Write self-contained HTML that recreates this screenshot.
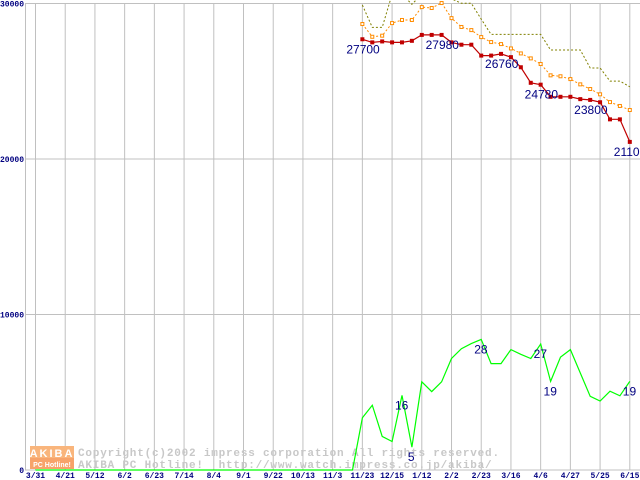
<!DOCTYPE html>
<html><head><meta charset="utf-8"><style>
body{margin:0;background:#fff;width:640px;height:480px;overflow:hidden}
svg{display:block}
text{font-family:"Liberation Sans",sans-serif}
text.mono{font-family:"Liberation Mono",monospace}
</style></head><body>
<svg id="chart" width="640" height="480" xmlns="http://www.w3.org/2000/svg">
<g id="grid"></g>
<g id="wm">
<rect x="30" y="446" width="44" height="12" fill="#f9b57c"/>
<rect x="30" y="458" width="44" height="11" fill="#f7a36a"/>
<text x="52" y="457" font-size="11" font-weight="bold" fill="#fff" text-anchor="middle" letter-spacing="2">AKIBA</text>
<text x="52" y="467" font-size="7" font-weight="bold" fill="#fff" text-anchor="middle">PC Hotline!</text>
<text class="mono" x="78" y="456" font-size="11" font-weight="bold" fill="#c8c8c8" letter-spacing="0.8">Copyright(c)2002 impress corporation All rights reserved.</text>
<text class="mono" x="78" y="468" font-size="11" font-weight="bold" fill="#c8c8c8" letter-spacing="0.8" xml:space="preserve">AKIBA PC Hotline!  http://www.watch.impress.co.jp/akiba/</text>
</g>
<g id="series"></g>
<g id="labels"></g>
</svg>
<script>
const xLabels=["3/31","4/21","5/12","6/2","6/23","7/14","8/4","9/1","9/22","10/13","11/3","11/23","12/15","1/12","2/2","2/23","3/16","4/6","4/27","5/25","6/15"];
const yTicks=[0,10000,20000,30000];
const priceStart=33;
const redVals=[27700,27500,27560,27500,27500,27600,27980,27980,27980,27500,27350,27350,26650,26650,26760,26550,25900,24900,24780,24000,24000,24000,23850,23800,23650,22550,22550,21100];
const orangeVals=[28680,27860,27930,28740,28940,28940,29770,29710,30030,29060,28490,28290,27840,27520,27390,27110,26790,26470,26110,25380,25320,25140,24800,24500,24160,23660,23410,23150];
const oliveVals=[29900,28460,28460,30600,30600,29950,30600,30600,30600,30300,30010,30010,29000,28010,28010,28010,28010,28010,28010,27010,27010,27010,27010,25850,25850,25010,25010,24640];
const greenStart=33;
const greenVals=[11.2,13.9,7.2,6.1,16,4.9,18.9,16.8,18.9,23.9,26,27.1,28,22.8,22.8,25.8,24.8,23.9,27,19,24.2,25.8,20.8,15.8,14.8,16.9,15.9,19];
const redLabels=[[0,"27700"],[8,"27980"],[14,"26760"],[18,"24780"],[23,"23800"],[27,"21100"]];
const greenLabels=[[4,"16"],[5,"5"],[12,"28"],[18,"27"],[19,"19"],[27,"19"]];

const NS="http://www.w3.org/2000/svg";
const x0=35.5,wk=9.905;
const X=w=>x0+w*wk;
const Y=v=>470-v*0.01555;
const YG=p=>470-p*4.665;
function mk(t,a,parent){const e=document.createElementNS(NS,t);for(const k in a)e.setAttribute(k,a[k]);parent.appendChild(e);return e;}
const grid=document.getElementById('grid'),ser=document.getElementById('series'),lab=document.getElementById('labels');
let ax=mk('line',{x1:25.5,y1:4,x2:25.5,y2:470,stroke:'#c0c0c0','stroke-width':1},grid);


xLabels.forEach((l,i)=>{
  const x=X(i*3);
  const g=mk('line',{x1:x,y1:4,x2:x,y2:470,stroke:'#c0c0c0','stroke-width':1},grid);
  
  
  const t=mk('text',{class:'mono',x:x,y:478,'font-size':8,'font-weight':'bold',fill:'#000080','text-anchor':'middle'},grid);
  t.textContent=l;
  
  
});
yTicks.forEach(v=>{
  const y=Y(v);
  const g=mk('line',{x1:25,y1:y,x2:640,y2:y,stroke:'#c0c0c0','stroke-width':1},grid);
  
  
  const t=mk('text',{class:'mono',x:24,y:y+3,'font-size':8,'font-weight':'bold',fill:'#000080','text-anchor':'end'},grid);
  t.textContent=String(v);
  
  
});
function pts(vals,start,f){return vals.map((v,i)=>X(start+i).toFixed(1)+','+f(v).toFixed(1)).join(' ');}
let ol=mk('polyline',{points:pts(oliveVals,priceStart,Y),fill:'none',stroke:'#808000','stroke-width':1,'stroke-dasharray':'2,2'},ser);


let or=mk('polyline',{points:pts(orangeVals,priceStart,Y),fill:'none',stroke:'#ff8c00','stroke-width':1,'stroke-dasharray':'2,2'},ser);


orangeVals.forEach((v,i)=>{
  const r=mk('rect',{x:X(priceStart+i)-1.5,y:Y(v)-1.5,width:3,height:3,fill:'#fff',stroke:'#ff8c00','stroke-width':1},ser);
  
  
});
let rd=mk('polyline',{points:pts(redVals,priceStart,Y),fill:'none',stroke:'#c00000','stroke-width':1.2},ser);


redVals.forEach((v,i)=>{
  const r=mk('rect',{x:X(priceStart+i)-2,y:Y(v)-2,width:4,height:4,fill:'#c00000'},ser);
  
  
});
const gAll=[];for(let w=0;w<greenStart;w++)gAll.push(0);greenVals.forEach(v=>gAll.push(v));
let gr=mk('polyline',{points:pts(gAll,0,YG),fill:'none',stroke:'#00ff00','stroke-width':1.2},ser);


redLabels.forEach(([i,s])=>{
  const t=mk('text',{x:X(priceStart+i)-16,y:Y(redVals[i])+14,'font-size':12,fill:'#000080'},lab);
  t.textContent=s;
  
  
});
greenLabels.forEach(([i,s])=>{
  const t=mk('text',{x:X(greenStart+i)-(s.length>1?7:4),y:YG(greenVals[i])+14,'font-size':12,fill:'#000080'},lab);
  t.textContent=s;
  
  
});
</script>
</body></html>
